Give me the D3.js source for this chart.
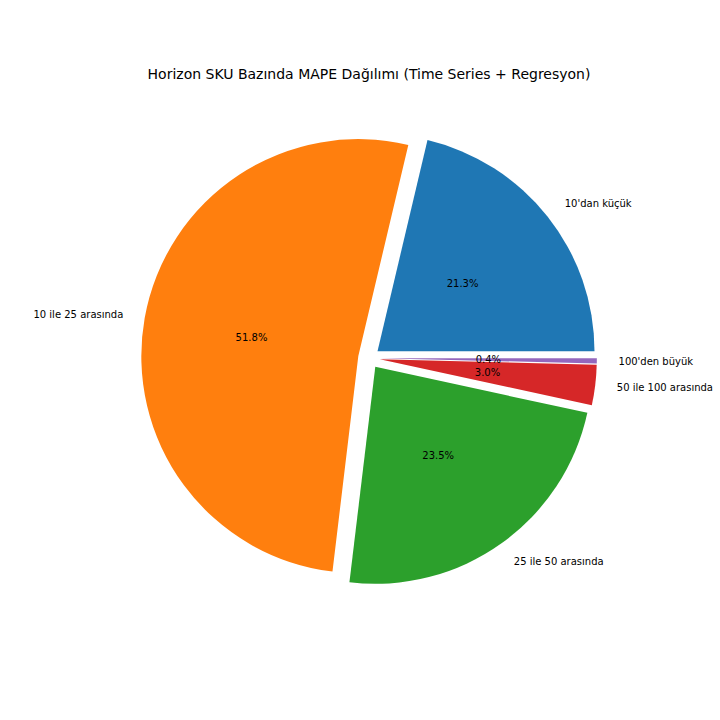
<!DOCTYPE html>
<meta charset="utf-8">
<script src="https://d3js.org/d3.v7.min.js"></script>
<style>
  body { margin: 0; background: #fff; }
  svg text { font-family: "DejaVu Sans", sans-serif; fill: #000; }
</style>
<body>
<div id="chart"></div>
<script>
  // chart data
  var categories = ["10'dan küçük", "10 ile 25 arasında", "25 ile 50 arasında", "50 ile 100 arasında", "100'den büyük"];
  var shares = [21.3, 51.8, 23.5, 3.0, 0.4];
  var colours = ["#1f77b4", "#ff7f0e", "#2ca02c", "#d62728", "#9467bd"];
  var title = "Horizon SKU Bazında MAPE Dağılımı (Time Series + Regresyon)";

  var width = 720, height = 720;
  var cx = 369, cy = 358, radius = 217;
  var explode = 0.05, labelDist = 1.1, pctDist = 0.5;

  var svg = d3.select("#chart").append("svg")
      .attr("width", width)
      .attr("height", height);

  // matplotlib style: start at 3 o'clock, go counter-clockwise
  var pie = d3.pie()
      .sort(null)
      .value(d => d.v)
      .startAngle(Math.PI / 2)
      .endAngle(Math.PI / 2 - 2 * Math.PI);

  var arc = d3.arc().innerRadius(0).outerRadius(radius);

  var data = pie(categories.map((c, i) => ({name: c, v: shares[i], colour: colours[i]})));

  function dir(d) {
    var m = (d.startAngle + d.endAngle) / 2;
    return [Math.sin(m), -Math.cos(m)];
  }

  var g = svg.append("g").attr("transform", "translate(" + cx + "," + cy + ")");

  var slices = g.selectAll("g.slice")
    .data(data)
    .join("g")
      .attr("class", "slice")
      .attr("transform", d => {
        var u = dir(d);
        return "translate(" + (u[0] * explode * radius) + "," + (u[1] * explode * radius) + ")";
      });

  slices.append("path")
      .attr("d", arc)
      .attr("fill", d => d.data.colour);

  // outer labels
  slices.append("text")
      .attr("x", d => dir(d)[0] * labelDist * radius)
      .attr("y", d => dir(d)[1] * labelDist * radius)
      .attr("text-anchor", d => dir(d)[0] >= 0 ? "start" : "end")
      .attr("dominant-baseline", "central")
      .style("font-size", "10px")
      .text(d => d.data.name);

  // percentage labels
  var total = d3.sum(shares);
  slices.append("text")
      .attr("x", d => dir(d)[0] * pctDist * radius)
      .attr("y", d => dir(d)[1] * pctDist * radius)
      .attr("text-anchor", "middle")
      .attr("dominant-baseline", "central")
      .style("font-size", "10px")
      .text(d => (d.data.v / total * 100).toFixed(1) + "%");

  svg.append("text")
      .attr("x", cx)
      .attr("y", 79)
      .attr("text-anchor", "middle")
      .style("font-size", "14px")
      .text(title);
</script>
</body>
